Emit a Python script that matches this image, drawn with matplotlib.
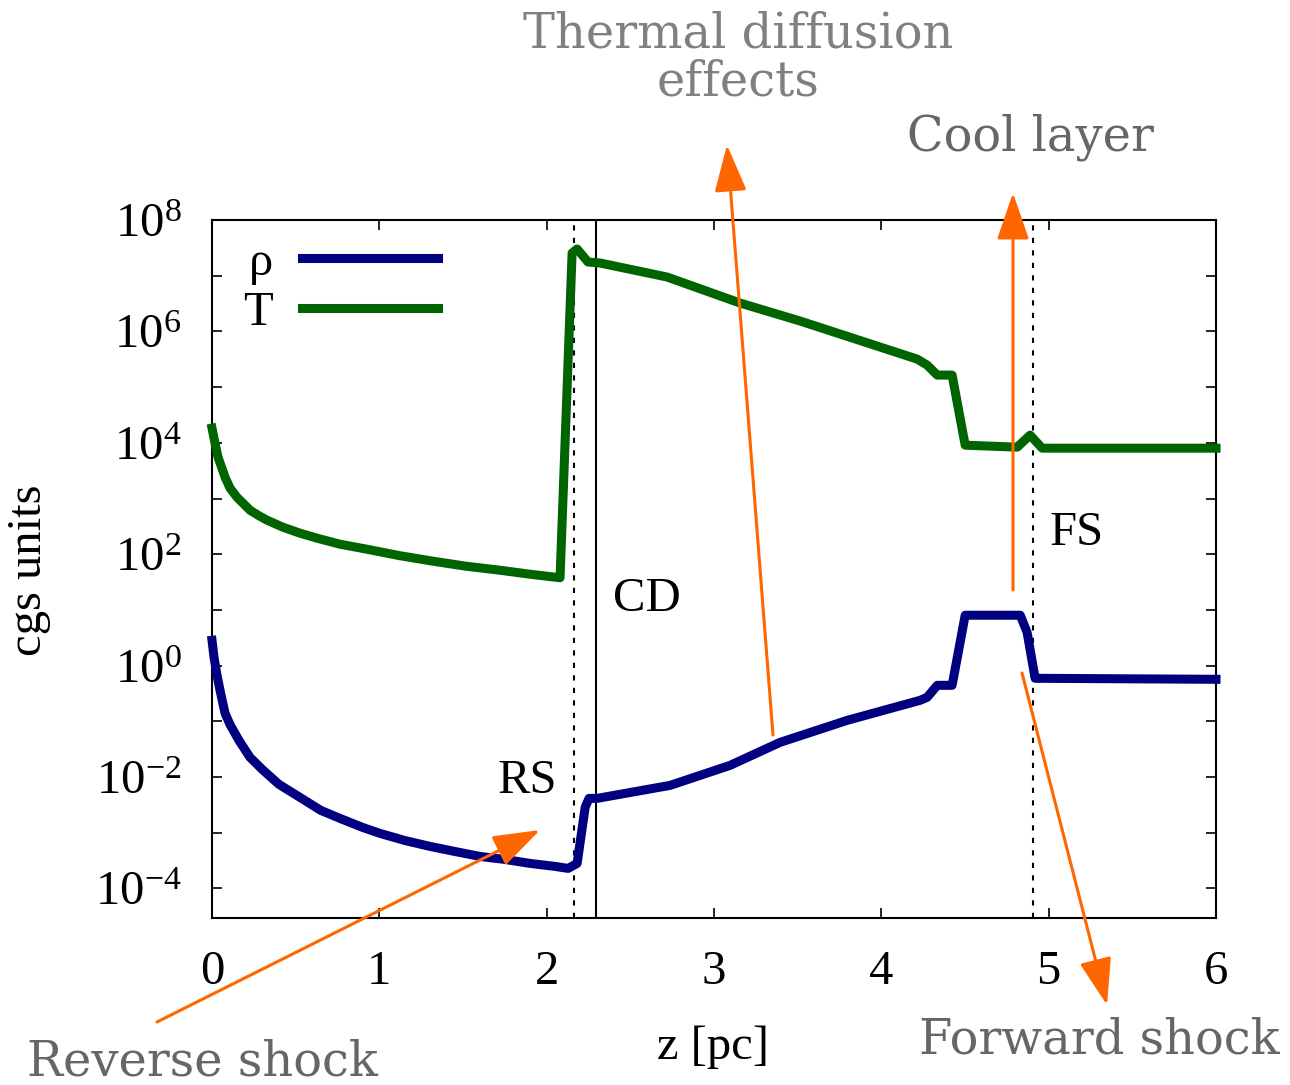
import numpy as np
import matplotlib.pyplot as plt

plt.rcParams['font.family'] = 'Liberation Serif'
plt.rcParams['mathtext.fontset'] = 'custom'
plt.rcParams['mathtext.rm'] = 'Liberation Serif'

# density profile: z [pc] and log10(rho)
z_rho = [0.0, 0.012, 0.030, 0.048, 0.078, 0.110, 0.161, 0.227, 0.300, 0.400,
         0.526, 0.650, 0.765, 0.900, 1.004, 1.150, 1.303, 1.450, 1.602, 1.750,
         1.901, 2.050, 2.128, 2.182, 2.230, 2.253, 2.301, 2.738, 3.096,
         3.395, 3.796, 4.232, 4.274, 4.334, 4.423, 4.501, 4.830, 4.871, 4.919, 6.0]
log_rho = [0.455, 0.150, -0.173, -0.443, -0.856, -1.071, -1.341, -1.646, -1.862, -2.131,
           -2.365, -2.598, -2.742, -2.904, -3.011, -3.137, -3.245, -3.335, -3.425, -3.479,
           -3.550, -3.604, -3.640, -3.550, -2.544, -2.383, -2.383, -2.149, -1.790,
           -1.377, -0.982, -0.622, -0.568, -0.353, -0.353, 0.905, 0.905, 0.599, -0.227, -0.245]

# temperature profile: z [pc] and log10(T)
z_T = [0.0, 0.006, 0.018, 0.036, 0.078, 0.108, 0.149, 0.191, 0.227, 0.275,
       0.329, 0.424, 0.526, 0.628, 0.765, 0.926, 1.124, 1.321, 1.518, 1.721,
       1.901, 2.080, 2.152, 2.182, 2.247, 2.319, 2.720, 3.156, 3.515,
       4.214, 4.274, 4.334, 4.423, 4.501, 4.812, 4.889, 4.961, 6.0]
log_T = [4.264, 4.174, 3.994, 3.743, 3.383, 3.186, 3.024, 2.899, 2.791, 2.701,
         2.611, 2.485, 2.378, 2.288, 2.180, 2.090, 1.973, 1.875, 1.785, 1.713,
         1.641, 1.578, 7.407, 7.479, 7.246, 7.228, 6.976, 6.509, 6.186,
         5.503, 5.395, 5.216, 5.216, 3.958, 3.922, 4.138, 3.904, 3.904]

# reverse shock, contact discontinuity, forward shock positions
z_rs, z_cd, z_fs = 2.166, 2.295, 4.905

xticks = [0, 1, 2, 3, 4, 5, 6]
ydecades = [-4, -3, -2, -1, 0, 1, 2, 3, 4, 5, 6, 7, 8]

W, H = 1290, 1085
fig = plt.figure(figsize=(W / 100, H / 100), dpi=100)
ax = fig.add_axes([212 / W, 1 - 918 / H, (1216 - 212) / W, (918 - 220) / H])


def fp(x, y):
    # image pixel -> figure fraction
    return (x / W, 1 - y / H)


ax.semilogy(z_rho, 10.0 ** np.array(log_rho), color='#000080', lw=6.5, label='ρ', clip_on=False, zorder=3)
ax.semilogy(z_T, 10.0 ** np.array(log_T), color='#006400', lw=6.5, label='T', clip_on=False, zorder=3)

ax.axvline(z_rs, color='black', lw=1.5, ls=(0, (2.5, 3.5)))
ax.axvline(z_fs, color='black', lw=1.5, ls=(0, (2.5, 3.5)))
ax.axvline(z_cd, color='black', lw=1.5)

ax.set_xlim(0, 6)
ax.set_ylim(10 ** -4.53, 1e8)
ax.set_xticks(xticks)
ax.set_xticklabels([str(t) for t in xticks])
ax.set_yticks([10.0 ** d for d in ydecades])
ax.set_yticklabels(['$\\mathregular{10^{%d}}$' % d if d % 2 == 0 else '' for d in ydecades])
ax.minorticks_off()
ax.tick_params(direction='in', top=True, right=True, length=7, width=1.2, labelsize=35)
ax.tick_params(axis='x', pad=23)
ax.tick_params(axis='y', pad=22)
for s in ax.spines.values():
    s.set_linewidth(1.5)

ax.legend(loc='upper left', bbox_to_anchor=(0.031, 0.970), markerfirst=False, frameon=False,
          fontsize=35, handlelength=2.8, handletextpad=0.6, labelspacing=0.12,
          borderpad=0, borderaxespad=0)

# labels inside the plot
fig.text(*fp(498, 793), 'RS', fontsize=35, ha='left', va='baseline')
fig.text(*fp(613, 611), 'CD', fontsize=35, ha='left', va='baseline')
fig.text(*fp(1050, 545), 'FS', fontsize=35, ha='left', va='baseline')

fig.text(*fp(713, 1059), 'z [pc]', fontsize=35, ha='center', va='baseline')
fig.text(*fp(29, 570), 'cgs units', fontsize=35, ha='center', va='center', rotation=90)

# gray annotations
gray = dict(family='DejaVu Serif', fontsize=34.5)
fig.text(*fp(738, 48), 'Thermal diffusion', color='#808080', ha='center', va='baseline', **gray)
fig.text(*fp(738, 95), 'effects', color='#808080', ha='center', va='baseline', **gray)
fig.text(*fp(1030, 150), 'Cool layer', color='#666666', ha='center', va='baseline', **gray)
fig.text(*fp(27, 1076), 'Reverse shock', color='#666666', ha='left', va='baseline', **gray)
fig.text(*fp(919, 1054), 'Forward shock', color='#666666', ha='left', va='baseline', **gray)

arrow = dict(arrowstyle='-|>,head_length=1.45,head_width=0.5', color='#ff6600', lw=2.2,
             shrinkA=0, shrinkB=0, mutation_scale=20)
for tail, tip in [((773, 735), (727, 145)), ((1013, 590), (1013, 193)),
                  ((157, 1022), (540, 830)), ((1022, 673), (1107, 1005))]:
    ax.annotate('', xy=fp(*tip), xytext=fp(*tail), xycoords='figure fraction',
                textcoords='figure fraction', arrowprops=arrow, annotation_clip=False, zorder=10)

fig.savefig('out.png', dpi=100)
